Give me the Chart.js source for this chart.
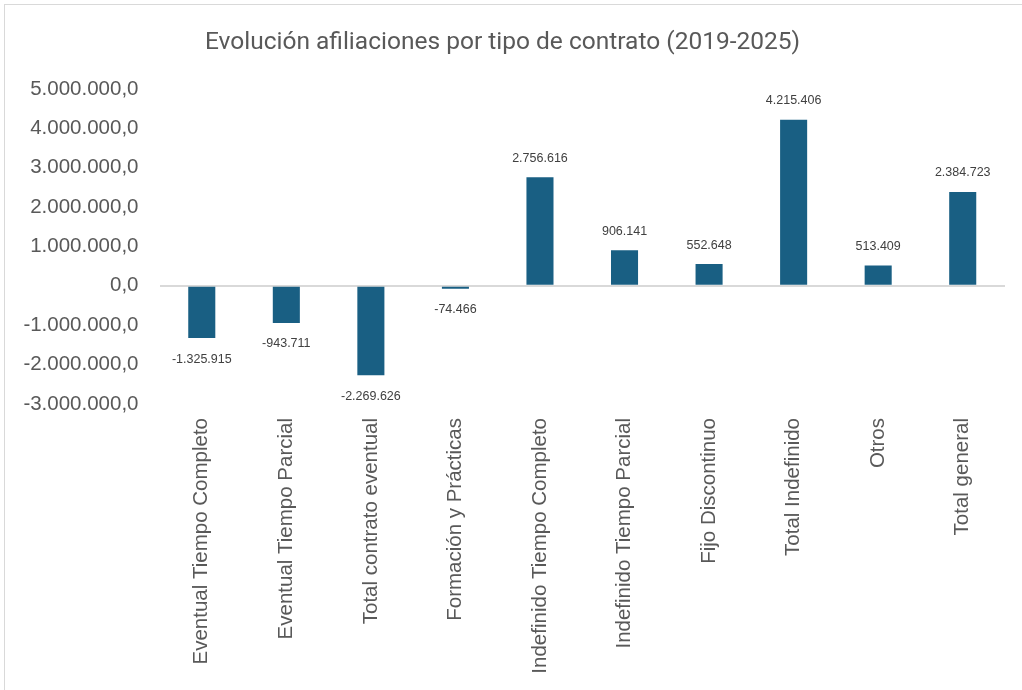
<!DOCTYPE html>
<html>
<head>
<meta charset="utf-8">
<script src="https://cdn.jsdelivr.net/npm/chart.js@4/dist/chart.umd.min.js"></script>
<style>
  body { margin: 0; background: #fff; }
  #wrap { position: relative; width: 1022px; height: 690px; }
  #frame { position: absolute; left: 4px; top: 4px; width: 1030px; height: 700px; border: 1px solid #d9d9d9; }
  canvas { position: absolute; left: 0; top: 0; }
</style>
</head>
<body>
<div id="wrap">
  <div id="frame"></div>
  <canvas id="afiliaciones" width="1022" height="690"></canvas>
</div>
<script>
// datos
var categorias = ["Eventual Tiempo Completo", "Eventual Tiempo Parcial", "Total contrato eventual",
  "Formación y Prácticas", "Indefinido Tiempo Completo", "Indefinido Tiempo Parcial",
  "Fijo Discontinuo", "Total Indefinido", "Otros", "Total general"];
var variacion = [-1325915, -943711, -2269626, -74466, 2756616, 906141, 552648, 4215406, 513409, 2384723];
var ejeY = { min: -3000000, max: 5000000, paso: 1000000 };

function miles(n, dec) {
  var neg = n < 0;
  var s = Math.abs(n).toFixed(dec || 0).split(".");
  var ent = s[0].replace(/\B(?=(\d{3})+(?!\d))/g, ".");
  return (neg ? "-" : "") + ent + (s[1] ? "," + s[1] : "");
}

// etiquetas de valor encima / debajo de cada barra
var etiquetas = {
  id: 'etiquetas',
  afterDatasetsDraw: function(chart) {
    var ctx = chart.ctx;
    var meta = chart.getDatasetMeta(0);
    ctx.save();
    ctx.font = '12.5px "Liberation Sans", Arial, sans-serif';
    ctx.fillStyle = '#404040';
    ctx.textAlign = 'center';
    ctx.textBaseline = 'middle';
    meta.data.forEach(function(bar, i) {
      var v = variacion[i];
      var y = v >= 0 ? bar.y - 19 : bar.y + 21;
      ctx.fillText(miles(v), bar.x, y);
    });
    ctx.restore();
  }
};

var ctx = document.getElementById('afiliaciones');
var grafico = new Chart(ctx, {
  type: 'bar',
  data: {
    labels: categorias,
    datasets: [{
      label: 'Variación',
      data: variacion,
      backgroundColor: '#195f83',
      borderWidth: 0,
      barPercentage: 0.32,
      categoryPercentage: 1
    }]
  },
  options: {
    responsive: false,
    animation: false,
    layout: { padding: { left: 0, right: 17, top: 0, bottom: 0 } },
    plugins: {
      legend: { display: false },
      tooltip: { enabled: false },
      title: {
        display: true,
        text: 'Evolución afiliaciones por tipo de contrato (2019-2025)',
        color: '#595959',
        font: { family: 'Roboto, "Liberation Sans", sans-serif', size: 24.5, weight: 'normal' },
        padding: { top: 28, bottom: 31.5 }
      }
    },
    scales: {
      x: {
        grid: { display: false },
        border: { display: false },
        ticks: {
          color: '#595959',
          font: { family: '"Liberation Sans", Arial, sans-serif', size: 20.5 },
          minRotation: 90,
          maxRotation: 90,
          autoSkip: false,
          padding: 6
        },
        afterFit: function(s) { s.height = 286; }
      },
      y: {
        min: ejeY.min,
        max: ejeY.max,
        border: { display: false },
        grid: {
          drawTicks: false,
          lineWidth: 2,
          color: function(c) { return c.tick && c.tick.value === 0 ? '#d9d9d9' : 'rgba(0,0,0,0)'; }
        },
        ticks: {
          stepSize: ejeY.paso,
          color: '#595959',
          font: { family: '"Liberation Sans", Arial, sans-serif', size: 20.5 },
          padding: 21,
          callback: function(v) { return miles(v, 1); }
        },
        afterFit: function(s) { s.width = 159.5; }
      }
    }
  },
  plugins: [etiquetas]
});
</script>
</body>
</html>
